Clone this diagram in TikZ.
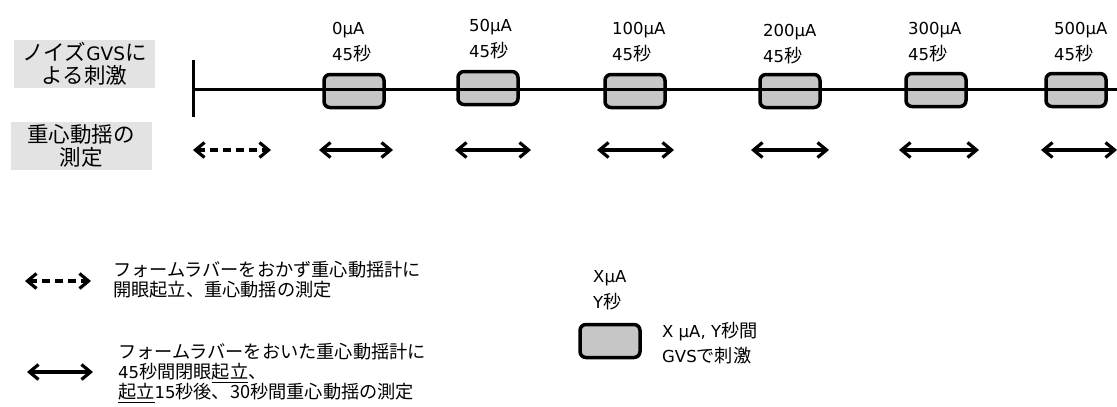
\documentclass[tikz,border=0pt]{standalone}
\usepackage{fontspec}
\setmainfont{DejaVu Sans}
\newfontfamily\jpf{Noto Sans CJK JP}
\newcommand\J[1]{{\jpf\fontsize{18.2}{20}\selectfont #1}}
\newcommand\JL[1]{{\jpf\fontsize{21.5}{23}\selectfont #1}}
\usetikzlibrary{arrows.meta}
\begin{document}
\begin{tikzpicture}[x=1pt,y=-1pt,
  stim/.style={draw=black,line width=3.5pt,rounded corners=6pt,fill=gray!45,minimum width=60pt,minimum height=33pt,inner sep=0pt},
  lab/.style={anchor=west,align=left,font=\fontsize{16.5}{25.5}\selectfont,inner sep=0pt},
  side/.style={fill=gray!22,align=center,font=\fontsize{18.5}{23}\selectfont,inner sep=0pt,minimum width=141pt,minimum height=48pt},
  meas/.style={line width=3.2pt,{Straight Barb[length=9pt,width=15pt,line width=3.2pt]}-{Straight Barb[length=9pt,width=15pt,line width=3.2pt]}},
  measd/.style={meas,dash pattern=on 8pt off 5pt},
  legtxt/.style={anchor=west,align=left,font=\fontsize{16.5}{20}\selectfont,inner sep=0pt}
]
\useasboundingbox (0,0) rectangle (1117,407);
% side labels
\node[side] (s1) at (84.5,64) {\JL{ノイズ}GVS\JL{に}\\\JL{よる刺激}};
\node[side] (s2) at (81,146) {\JL{重心動揺の}\\\JL{測定}};
% stimulation boxes
\node[stim] (b1) at (354,91) {};
\node[stim] (b2) at (488,88) {};
\node[stim] (b3) at (635,91) {};
\node[stim] (b4) at (790,91) {};
\node[stim] (b5) at (936,90) {};
\node[stim] (b6) at (1076,90) {};
% timeline
\coordinate (t0) at (193,89);
\coordinate (tt) at (193,60);
\coordinate (tb) at (193,117);
\coordinate (te) at (1117,89);
\draw[line width=3pt] (tt) -- (tb);
\draw[line width=3pt] (t0) -- (te);
% labels
\node[lab] (l1) at (332,42) {0µA\\45\J{秒}};
\node[lab] (l2) at (469,39) {50µA\\45\J{秒}};
\node[lab] (l3) at (612,42) {100µA\\45\J{秒}};
\node[lab] (l4) at (763,44) {200µA\\45\J{秒}};
\node[lab] (l5) at (908,42) {300µA\\45\J{秒}};
\node[lab] (l6) at (1054,42) {500µA\\45\J{秒}};
% measurement arrows
\coordinate (m0a) at (193,150); \coordinate (m0b) at (271,150);
\draw[measd] (m0a) -- (m0b);
\foreach \i/\a/\b in {1/319/393,2/455/531,3/597/674,4/751/829,5/899/979,6/1041/1117}{
  \coordinate (m\i a) at (\a,150); \coordinate (m\i b) at (\b,150);
  \draw[meas] (m\i a) -- (m\i b);
}
% legend
\coordinate (ld1) at (25,281); \coordinate (ld2) at (91,281);
\draw[measd] (ld1) -- (ld2);
\node[legtxt] (lt1) at (113,280) {\J{フォームラバーをおかず重心動揺計に}\\\J{開眼起立、重心動揺の測定}};
\coordinate (ls1) at (27,372); \coordinate (ls2) at (93,372);
\draw[meas] (ls1) -- (ls2);
\node[legtxt] (lt2) at (118,373) {\J{フォームラバーをおいた重心動揺計に}\\45\J{秒間閉眼\underline{起立}、}\\\J{\underline{起立}}15\J{秒後、30秒間重心動揺の測定}};
\node[stim] (lb) at (610,341) {};
\node[lab] (lbl) at (593,290) {XµA\\Y\J{秒}};
\node[lab] (lbt) at (662,343) {X µA, Y\J{秒間}\\GVS\J{で刺激}};
\end{tikzpicture}
\end{document}
